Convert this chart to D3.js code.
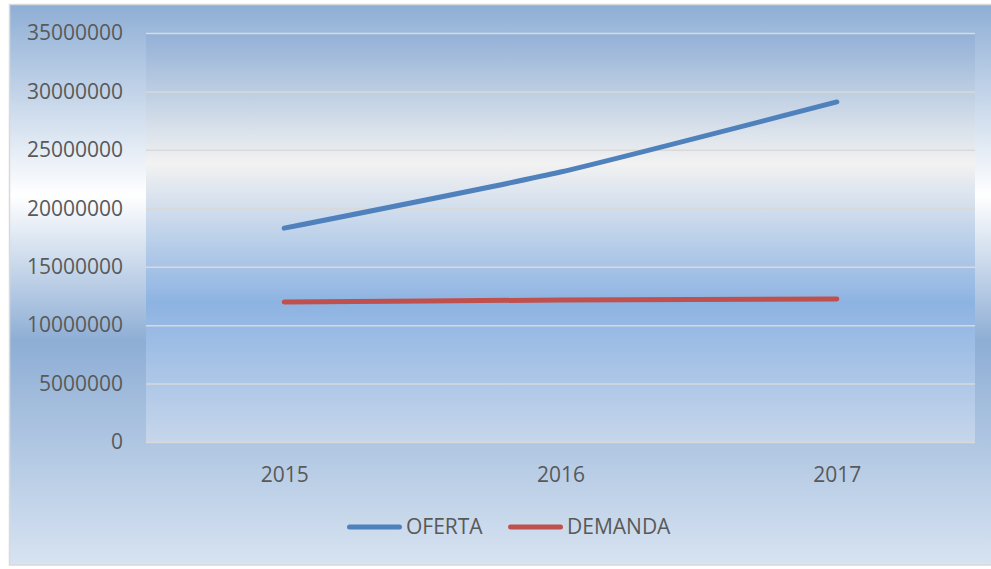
<!DOCTYPE html>
<html>
<head>
<meta charset="utf-8">
<script src="https://cdn.jsdelivr.net/npm/d3@7"></script>
<style>
	html, body { margin: 0; padding: 0; background: #fff; }
	text { font-family: "Open Sans", "Liberation Sans", sans-serif; fill: #595959; }
</style>
</head>
<body>
<svg id="chart" width="991" height="569"></svg>
<script>
var years = ['2015', '2016', '2017'];
var oferta = [18300000, 23100000, 29100000];
var demanda = [11980000, 12150000, 12240000];
var yTicks = [0, 5000000, 10000000, 15000000, 20000000, 25000000, 30000000, 35000000];
var seriesNames = ['OFERTA', 'DEMANDA'];
var seriesColors = ['#4f81bd', '#c0504d'];

var svg = d3.select('#chart');
var width = 991, height = 569;
var margin = {top: 33, right: 16, bottom: 127, left: 146};
var fontSize = 21;

var defs = svg.append('defs');

// outer chart background
var outerGrad = defs.append('linearGradient')
	.attr('id', 'outer-grad')
	.attr('x1', 0).attr('y1', 0).attr('x2', 0).attr('y2', 1);
[[0, '#8eaed5'], [0.34, '#ffffff'], [0.6, '#8eaed5'], [1, '#d7e3f1']].forEach(function (s) {
	outerGrad.append('stop').attr('offset', s[0]).attr('stop-color', s[1]);
});

// plot area background
var plotGrad = defs.append('linearGradient')
	.attr('id', 'plot-grad')
	.attr('x1', 0).attr('y1', 0).attr('x2', 0).attr('y2', 1);
[[0, '#92b0d6'], [0.32, '#f2f2f2'], [0.66, '#8db3e2'], [1, '#c6d6eb']].forEach(function (s) {
	plotGrad.append('stop').attr('offset', s[0]).attr('stop-color', s[1]);
});

svg.append('rect')
	.attr('x', 9.5).attr('y', 4.5)
	.attr('width', 990).attr('height', 560.5)
	.attr('fill', 'url(#outer-grad)')
	.attr('stroke', '#d9d9d9')
	.attr('stroke-width', 1.5);

var x = d3.scalePoint()
	.domain(years)
	.range([margin.left, width - margin.right])
	.padding(0.5);

var y = d3.scaleLinear()
	.domain([0, 35000000])
	.range([height - margin.bottom, margin.top]);

svg.append('rect')
	.attr('x', margin.left).attr('y', margin.top)
	.attr('width', width - margin.right - margin.left)
	.attr('height', height - margin.bottom - margin.top)
	.attr('fill', 'url(#plot-grad)');

// gridlines
var yAxis = d3.axisLeft(y)
	.tickValues(yTicks)
	.tickFormat(d3.format('d'))
	.tickSize(-(width - margin.right - margin.left))
	.tickPadding(23);

var gy = svg.append('g')
	.attr('transform', 'translate(' + margin.left + ',0)')
	.call(yAxis);
gy.select('.domain').remove();
gy.selectAll('.tick line')
	.attr('stroke', '#d9d9d9')
	.attr('stroke-width', 1.5);
gy.selectAll('.tick text')
	.attr('font-size', fontSize)
	.attr('fill', '#595959');

var xAxis = d3.axisBottom(x).tickSize(0).tickPadding(25);
var gx = svg.append('g')
	.attr('transform', 'translate(0,' + (height - margin.bottom) + ')')
	.call(xAxis);
gx.select('.domain').remove();
gx.selectAll('.tick text')
	.attr('font-size', fontSize)
	.attr('fill', '#595959');

var line = d3.line()
	.x(function (d, i) { return x(years[i]); })
	.y(function (d) { return y(d); })
	.curve(d3.curveCardinal.tension(0.5));

[oferta, demanda].forEach(function (series, i) {
	svg.append('path')
		.datum(series)
		.attr('d', line)
		.attr('fill', 'none')
		.attr('stroke', seriesColors[i])
		.attr('stroke-width', 5)
		.attr('stroke-linecap', 'round')
		.attr('stroke-linejoin', 'round');
});

// legend
var legendX = [347, 508];
var legendY = 527;
seriesNames.forEach(function (name, i) {
	var g = svg.append('g').attr('transform', 'translate(' + legendX[i] + ',' + legendY + ')');
	g.append('line')
		.attr('x1', 2.5).attr('x2', 52.5)
		.attr('y1', 0).attr('y2', 0)
		.attr('stroke', seriesColors[i])
		.attr('stroke-width', 5)
		.attr('stroke-linecap', 'round');
	g.append('text')
		.attr('x', 59)
		.attr('y', 0)
		.attr('dy', '0.35em')
		.attr('font-size', fontSize)
		.text(name);
});
</script>
</body>
</html>
